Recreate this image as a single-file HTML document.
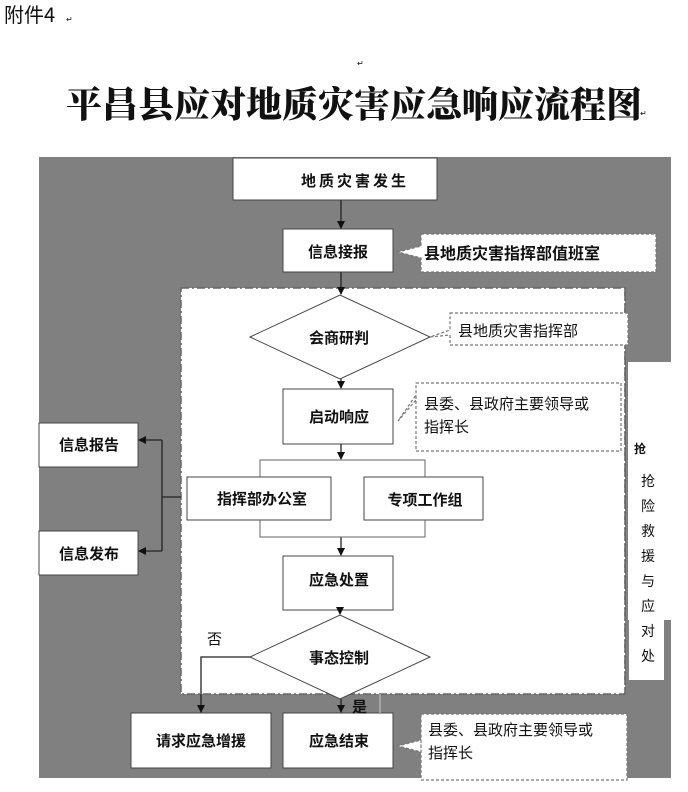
<!DOCTYPE html>
<html><head><meta charset="utf-8"><style>
body{margin:0;width:688px;height:792px;background:#fff;overflow:hidden}
svg{display:block}
text{font-family:"Liberation Sans","Noto Sans CJK SC",sans-serif;font-weight:bold;fill:#111}
.n{font-weight:normal}
</style></head><body>
<svg width="688" height="792" viewBox="0 0 688 792">
<defs><marker id="a" markerWidth="8" markerHeight="8" refX="7" refY="4" orient="auto" markerUnits="userSpaceOnUse"><path d="M0,0L8,4L0,8z" fill="#111"/></marker></defs>
<text x="4" y="22" font-size="20" class="n" style="font-family:'Noto Sans CJK SC',sans-serif;font-weight:normal">附件4</text>
<text x="66" y="22" font-size="8" class="n">↵</text>
<text x="357" y="66" font-size="8" class="n">↵</text>
<text x="354" y="117" font-size="36" text-anchor="middle" style="font-family:'Noto Serif CJK SC',serif;font-weight:900">平昌县应对地质灾害应急响应流程图</text>
<text x="640" y="116" font-size="8" class="n">↵</text>
<rect x="39" y="157" width="632" height="621" fill="#808080"/>
<rect x="181" y="288" width="444" height="406" fill="#fff" stroke="#666" stroke-dasharray="8,3,2,3" stroke-width="1.5"/>
<rect x="628" y="362" width="43" height="258" fill="#fff"/>
<rect x="629" y="362" width="35" height="318" fill="#fff"/>
<line x1="625" y1="288" x2="625" y2="694" stroke="#666" stroke-dasharray="8,3,2,3" stroke-width="1.5"/>
<g font-size="14" class="n" text-anchor="middle">
<text x="640" y="453" font-size="12" style="font-weight:bold">抢</text>
<text x="648" y="486" class="n">抢</text><text x="648" y="511" class="n">险</text><text x="648" y="536" class="n">救</text><text x="648" y="561" class="n">援</text><text x="648" y="586" class="n">与</text><text x="648" y="611" class="n">应</text><text x="648" y="636" class="n">对</text><text x="648" y="661" class="n">处</text>
</g>
<g fill="#fff" stroke="#444" stroke-width="1">
<rect x="233" y="158" width="204" height="42"/>
<rect x="283" y="229" width="110" height="43"/>
<polygon points="250,337 340,295 430,337 340,379"/>
<rect x="283" y="389" width="110" height="55"/>
<rect x="187" y="477" width="144" height="43"/>
<rect x="364" y="477" width="119" height="43"/>
<rect x="283" y="556" width="110" height="54"/>
<polygon points="250,657 340,615 430,657 340,699"/>
<rect x="131" y="713" width="140" height="55"/>
<rect x="283" y="713" width="110" height="55"/>
<rect x="39" y="423" width="99" height="44"/>
<rect x="39" y="531" width="99" height="44"/>
</g>
<g fill="#fff" stroke="#777" stroke-dasharray="3,2" stroke-width="1.2">
<path d="M421,234H656V272H421V258L398,252L421,246Z"/>
<path d="M450,313H628V345H450V335L430,337L450,330Z"/>
<path d="M416,383H621V451H416V395L398,421L416,400Z"/>
<path d="M421,714H627V780H421V740L398,746L421,752Z"/>
</g>
<g stroke="#222" stroke-width="1.3" fill="none">
<line x1="341" y1="200" x2="341" y2="228" marker-end="url(#a)"/>
<line x1="341" y1="272" x2="341" y2="294" marker-end="url(#a)"/>
<line x1="341" y1="379" x2="341" y2="388" marker-end="url(#a)"/>
<line x1="341" y1="444" x2="341" y2="459" marker-end="url(#a)"/>
<line x1="341" y1="537" x2="341" y2="555" marker-end="url(#a)"/>
<line x1="340" y1="610" x2="340" y2="614" marker-end="url(#a)"/>
<line x1="341" y1="699" x2="341" y2="712" marker-end="url(#a)"/>
<polyline points="250,657 201,657 201,712" marker-end="url(#a)"/>
<line x1="162" y1="440" x2="162" y2="551"/>
<line x1="162" y1="440" x2="139" y2="440" marker-end="url(#a)"/>
<line x1="162" y1="551" x2="139" y2="551" marker-end="url(#a)"/>
<line x1="162" y1="497" x2="181" y2="497"/>
</g>
<g stroke="#666" stroke-width="1" fill="none">
<polyline points="260,477 260,460 425,460 425,477"/>
<polyline points="260,520 260,537 425,537 425,520"/>
<line x1="380" y1="694" x2="380" y2="713" stroke="#ccc"/>
</g>
<g font-size="15" text-anchor="middle">
<text x="355" y="186" letter-spacing="3">地质灾害发生</text>
<text x="338" y="257">信息接报</text>
<text x="512" y="259" font-size="16">县地质灾害指挥部值班室</text>
<text x="339" y="343">会商研判</text>
<text x="339" y="422">启动响应</text>
<text x="262" y="504">指挥部办公室</text>
<text x="425" y="505">专项工作组</text>
<text x="339" y="585">应急处置</text>
<text x="339" y="663">事态控制</text>
<text x="201" y="746">请求应急增援</text>
<text x="339" y="746">应急结束</text>
<text x="89" y="450">信息报告</text>
<text x="89" y="559">信息发布</text>
</g>
<g font-size="15" class="n">
<text x="458" y="336" class="n">县地质灾害指挥部</text>
<text x="424" y="409" class="n">县委、县政府主要领导或</text>
<text x="424" y="432" class="n">指挥长</text>
<text x="428" y="735" class="n">县委、县政府主要领导或</text>
<text x="428" y="758" class="n">指挥长</text>
<text x="207" y="644" class="n">否</text>
<text x="352" y="712" class="n" style="font-weight:bold">是</text>
</g>
</svg>
</body></html>
